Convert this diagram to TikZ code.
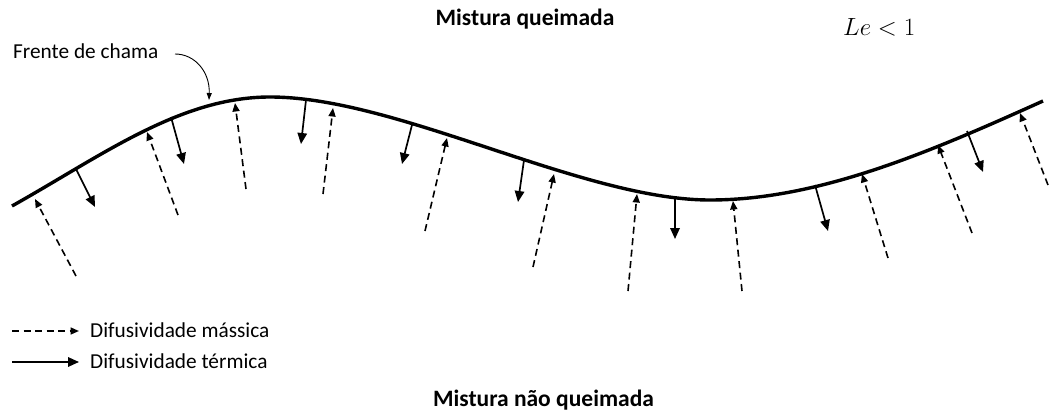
\documentclass[tikz,border=0pt]{standalone}
\usepackage{fontspec}
\setmainfont{Carlito}
\usetikzlibrary{arrows.meta}
\begin{document}
\begin{tikzpicture}[x=1pt,y=-1pt,
  front/.style={line width=3.4pt,line cap=butt,line join=round},
  thermal/.style={line width=1.7pt,-{Triangle[length=11pt,width=9.5pt]}},
  mass/.style={line width=1.6pt,dash pattern=on 7pt off 4.5pt,-{Triangle[length=8.5pt,width=7pt]}},
  pointer/.style={line width=0.9pt,-{Triangle[length=7pt,width=5pt]}},
  lbl/.style={inner sep=0pt,font=\fontsize{21.3}{25}\selectfont},
  title/.style={inner sep=0pt,font=\fontsize{23.5}{28}\selectfont\bfseries}]
\useasboundingbox (0,0) rectangle (1049,412);
% flame front
\draw[front] (12,206) .. controls (102,155.6) and (180,97) .. (270,97)
  .. controls (398,97) and (582,200) .. (710,200)
  .. controls (820,200) and (933,150.5) .. (1043,101);
% thermal diffusivity arrows
\foreach \i/\a/\b/\c/\d in {1/76/169/95/207, 2/171/117/184/164, 3/306/100/301/144, 4/412/125/402/164, 5/524/160/518/202, 6/675/197/675/239, 7/815/185/828/231, 8/967/131/983/172}{
  \coordinate (ts\i) at (\a,\b);
  \coordinate (te\i) at (\c,\d);
  \draw[thermal] (ts\i) -- (te\i);
}
% mass diffusivity arrows
\foreach \i/\a/\b/\c/\d in {1/76/276/35/199, 2/178/215/147/132, 3/246/189/235/103, 4/323/194/333/108, 5/425/231/447/138, 6/533/267/554/174, 7/628/291/637/194, 8/742/291/733/201, 9/888/258/862/174, 10/972/233/938/145, 11/1048/185/1020/113}{
  \coordinate (ms\i) at (\a,\b);
  \coordinate (me\i) at (\c,\d);
  \draw[mass] (ms\i) -- (me\i);
}
% labels
\node[lbl,anchor=base west] (frente) at (13,59) {Frente de chama};
\coordinate (fs) at (175,54);
\coordinate (fp) at (209,100);
\draw[pointer] (fs) .. controls (195,54) and (210,72) .. (fp);
\node[title,anchor=base] (queim) at (525,26) {Mistura queimada};
\node[title,anchor=base] (nqueim) at (543.5,406) {Mistura não queimada};
\node[inner sep=0pt,anchor=base west,font=\fontsize{23}{27}\selectfont] (le) at (843,36) {$Le<1$};
% legend
\node[lbl,anchor=base west] (lm) at (90,337) {Difusividade mássica};
\node[lbl,anchor=base west] (lt) at (90,368) {Difusividade térmica};
\coordinate (lms) at (12,331);
\coordinate (lts) at (12,362);
\draw[mass] (lms) -- ([xshift=-11pt]lms -| lm.west);
\draw[thermal] (lts) -- ([xshift=-11pt]lts -| lt.west);
\end{tikzpicture}
\end{document}
